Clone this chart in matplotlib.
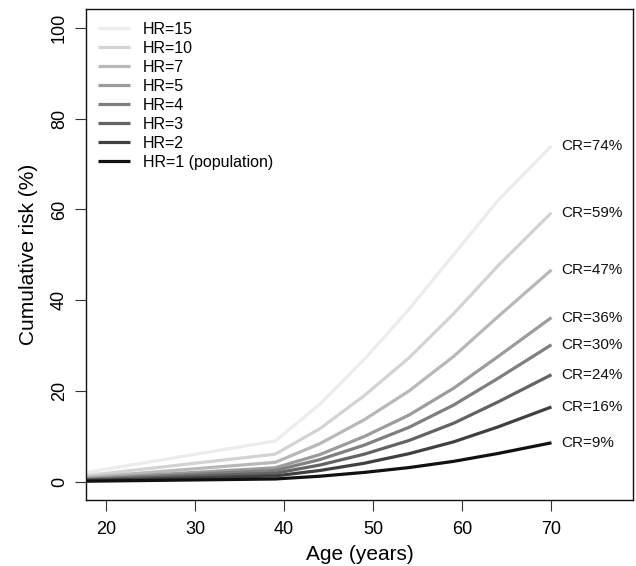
import matplotlib
matplotlib.use("Agg")
import matplotlib.pyplot as plt

plt.rcParams['font.family'] = ['Liberation Sans', 'DejaVu Sans']

ages = [17, 39, 44, 49, 54, 59, 64, 70]

hr_labels = ["HR=15", "HR=10", "HR=7", "HR=5", "HR=4", "HR=3", "HR=2", "HR=1 (population)"]
cr_labels = ["CR=74%", "CR=59%", "CR=47%", "CR=36%", "CR=30%", "CR=24%", "CR=16%", "CR=9%"]

risk_hr15 = [1.8, 9.0, 17.1, 27.0, 38.0, 50.0, 62.0, 74.0]
risk_hr10 = [1.2, 6.1, 11.7, 19.0, 27.3, 37.0, 47.6, 59.3]
risk_hr7 = [0.84, 4.3, 8.4, 13.7, 20.0, 27.6, 36.4, 46.7]
risk_hr5 = [0.6, 3.1, 6.0, 10.0, 14.7, 20.6, 27.6, 36.2]
risk_hr4 = [0.48, 2.5, 4.9, 8.1, 12.0, 16.9, 22.8, 30.2]
risk_hr3 = [0.36, 1.9, 3.7, 6.1, 9.1, 12.9, 17.6, 23.6]
risk_hr2 = [0.24, 1.3, 2.5, 4.1, 6.2, 8.8, 12.1, 16.5]
risk_hr1 = [0.12, 0.63, 1.24, 2.08, 3.14, 4.51, 6.25, 8.6]

series = [risk_hr15, risk_hr10, risk_hr7, risk_hr5, risk_hr4, risk_hr3, risk_hr2, risk_hr1]
colors = ["#ececec", "#d3d3d3", "#b8b8b8", "#9c9c9c", "#7f7f7f", "#636363", "#404040", "#111111"]

x_ticks = [20, 30, 40, 50, 60, 70]
y_ticks = [0, 20, 40, 60, 80, 100]

fig = plt.figure(figsize=(6.36, 5.66), dpi=100)
ax = fig.add_axes([86 / 636, 1 - 500 / 566, (633 - 86) / 636, (500 - 9.3) / 566])

for vals, col, lab in zip(series, colors, hr_labels):
    ax.plot(ages, vals, color=col, lw=2.3, label=lab, solid_capstyle='butt')

for vals, cl in zip(series, cr_labels):
    ax.text(ages[-1] + 1.1, vals[-1], cl, fontsize=11, ha='left', va='center', color='#111111')

ax.set_xlim(17.76, 79.15)
ax.set_ylim(-4.0, 104.1)
ax.set_xticks(x_ticks)
ax.set_yticks(y_ticks)
ax.set_yticklabels([str(v) for v in y_ticks], rotation=90, va='center')
ax.tick_params(axis='both', labelsize=13, length=8, width=0.8, color='#333333', pad=7)
ax.tick_params(axis='y', pad=5)
for s in ax.spines.values():
    s.set_linewidth(1.0)
    s.set_color('#111111')

ax.set_xlabel("Age (years)", fontsize=15, labelpad=5)
ax.set_ylabel("Cumulative risk (%)", fontsize=15, labelpad=9)

handles, labels = ax.get_legend_handles_labels()
leg = ax.legend(handles, labels, loc='upper left', frameon=False, fontsize=11.5,
                handlelength=2.0, handletextpad=0.8, labelspacing=0.255,
                borderaxespad=0.0, bbox_to_anchor=(0.0107, 0.988))

fig.savefig("out.png", dpi=100)
